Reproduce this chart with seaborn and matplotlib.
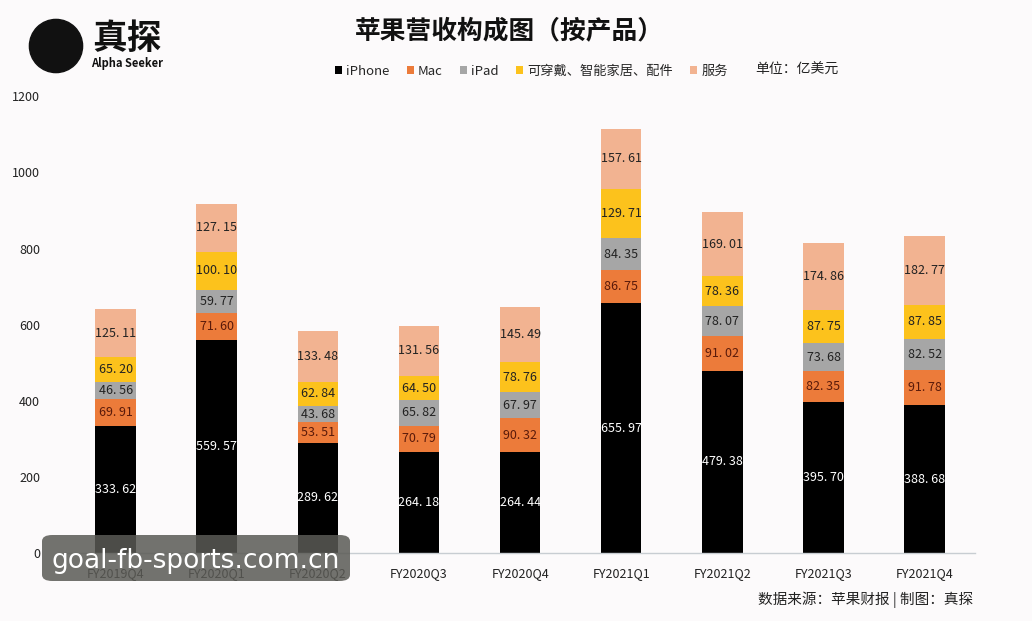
import matplotlib
matplotlib.use("Agg")
import matplotlib.pyplot as plt
import seaborn as sns
import numpy as np
import pandas as pd
from matplotlib.patches import Patch, FancyBboxPatch, Circle

quarters = ["FY2019Q4", "FY2020Q1", "FY2020Q2", "FY2020Q3", "FY2020Q4",
            "FY2021Q1", "FY2021Q2", "FY2021Q3", "FY2021Q4"]
iphone = [333.62, 559.57, 289.62, 264.18, 264.44, 655.97, 479.38, 395.70, 388.68]
mac = [69.91, 71.60, 53.51, 70.79, 90.32, 86.75, 91.02, 82.35, 91.78]
ipad = [46.56, 59.77, 43.68, 65.82, 67.97, 84.35, 78.07, 73.68, 82.52]
wearables = [65.20, 100.10, 62.84, 64.50, 78.76, 129.71, 78.36, 87.75, 87.85]
services = [125.11, 127.15, 133.48, 131.56, 145.49, 157.61, 169.01, 174.86, 182.77]
series_names = ["iPhone", "Mac", "iPad", "可穿戴、智能家居、配件", "服务"]
yticks = [0, 200, 400, 600, 800, 1000, 1200]

colors = ["#000000", "#EC7B3A", "#A6A6A6", "#FCC21C", "#F2B391"]
label_colors = ["white", "#5a1a0a", "#222222", "#222222", "#222222"]

sns.set_theme(style="white")
plt.rcParams['font.family'] = ['Noto Sans CJK SC', 'DejaVu Sans']

bg = "#FCFAFB"
fig = plt.figure(figsize=(10.32, 6.21), dpi=100, facecolor=bg)
ax = fig.add_axes([0.063, 0.1095, 0.882, 0.7355], facecolor=bg)

series = [iphone, mac, ipad, wearables, services]
cum = np.zeros(len(quarters))
cums = []
for s in series:
    cum = cum + np.array(s)
    cums.append(cum.copy())

for i in range(len(series) - 1, -1, -1):
    d = pd.DataFrame({"quarter": quarters, "value": cums[i]})
    sns.barplot(data=d, x="quarter", y="value", color=colors[i], ax=ax,
                width=0.4, saturation=1, edgecolor="none", linewidth=0)

for i, s in enumerate(series):
    bottoms = cums[i] - np.array(s)
    for j, v in enumerate(s):
        ax.text(j, bottoms[j] + v / 2, f"{v:.2f}".replace(".", ". "),
                ha="center", va="center", fontsize=9, color=label_colors[i],
                family=["Noto Sans CJK SC"])

ax.set_xlim(-0.5, 8.5)
ax.set_ylim(0, 1200)
ax.set_yticks(yticks)
ax.set_yticklabels([str(t) for t in yticks], fontsize=9, color="#222222")
ax.set_xlabel("")
ax.set_ylabel("")
ax.tick_params(axis="x", labelsize=9, colors="#222222", length=0, pad=10)
ax.tick_params(axis="y", length=0, pad=18)
for sp in ["top", "right", "left"]:
    ax.spines[sp].set_visible(False)
ax.spines["bottom"].set_color("#C8CDD2")
ax.spines["bottom"].set_linewidth(1)
ax.grid(False)

fig.text(0.494, 0.95, "苹果营收构成图（按产品）", ha="center", va="center",
         fontsize=18.5, fontweight="bold", color="#111111")

handles = [Patch(facecolor=c, edgecolor="none") for c in colors]
fig.legend(handles, series_names, loc="center", bbox_to_anchor=(0.515, 0.885),
           ncol=5, frameon=False, fontsize=9.5, handlelength=0.55, handleheight=0.55,
           handletextpad=0.3, columnspacing=1.3)
fig.text(0.732, 0.887, "单位：亿美元", ha="left", va="center", fontsize=10, color="#222222")

fig.text(0.943, 0.035, "数据来源：苹果财报 | 制图：真探", ha="right", va="center",
         fontsize=10.5, color="#222222")

# logo
logo_ax = fig.add_axes([28 / 1032, 1 - 74 / 621, 56 / 1032, 56 / 621])
logo_ax.set_xlim(-1, 1); logo_ax.set_ylim(-1, 1); logo_ax.axis("off")
logo_ax.add_patch(Circle((0, 0), 0.95, color="#111111"))
logo_ax.set_aspect("equal")
fig.text(92 / 1032, 1 - 38 / 621, "真探", ha="left", va="center", fontsize=25,
         fontweight="bold", color="#111111")
fig.text(91 / 1032, 1 - 63 / 621, "Alpha Seeker", ha="left", va="center", fontsize=8,
         fontweight="bold", color="#111111")

# watermark overlay
wm = FancyBboxPatch((42 / 1032, 1 - 581 / 621), 308 / 1032, 46 / 621,
                    boxstyle="round,pad=0,rounding_size=0.01", transform=fig.transFigure,
                    facecolor="#5a5a55", alpha=0.85, edgecolor="none", zorder=10)
fig.patches.append(wm)
fig.text(196 / 1032, 1 - 561 / 621, "goal-fb-sports.com.cn", ha="center", va="center",
         fontsize=19, color="white", zorder=11, family=["DejaVu Sans"])

fig.savefig("out.png", dpi=100, facecolor=bg)
